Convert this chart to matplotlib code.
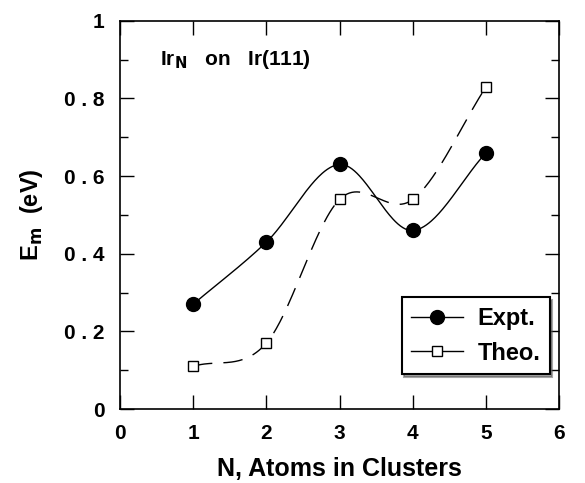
import numpy as np
import matplotlib.pyplot as plt
from matplotlib.lines import Line2D
from matplotlib.ticker import MultipleLocator

# data
n_atoms = [1, 2, 3, 4, 5]
expt = [0.27, 0.43, 0.63, 0.46, 0.66]
theo = [0.11, 0.17, 0.54, 0.54, 0.83]


def smooth(x, y, num=60):
    """Catmull-Rom style cubic Hermite curve through the points."""
    x = np.asarray(x, float)
    y = np.asarray(y, float)
    m = np.gradient(y, x)
    xs_all, ys_all = [], []
    for i in range(len(x) - 1):
        h = x[i + 1] - x[i]
        t = np.linspace(0, 1, num)
        h00 = 2 * t**3 - 3 * t**2 + 1
        h10 = t**3 - 2 * t**2 + t
        h01 = -2 * t**3 + 3 * t**2
        h11 = t**3 - t**2
        xs_all.append(x[i] + t * h)
        ys_all.append(h00 * y[i] + h10 * h * m[i] + h01 * y[i + 1] + h11 * h * m[i + 1])
    return np.concatenate(xs_all), np.concatenate(ys_all)


plt.rcParams["font.family"] = ["Liberation Sans", "DejaVu Sans"]
plt.rcParams["font.weight"] = "bold"

fig = plt.figure(figsize=(5.85, 4.83), dpi=100)
ax = fig.add_axes([0.205, 0.153, 0.751, 0.804])

xs, ys = smooth(n_atoms, expt)
ax.plot(xs, ys, color="black", lw=1.0)
ax.plot(n_atoms, expt, "o", color="black", ms=10)

xs, ys = smooth(n_atoms, theo)
ax.plot(xs, ys, color="black", lw=1.0, dashes=(14, 8))
ax.plot(n_atoms, theo, "s", mfc="white", mec="black", ms=7, mew=1.0, ls="none")

ax.set_xlim(0, 6)
ax.set_ylim(0, 1)
ax.xaxis.set_major_locator(MultipleLocator(1))
ax.yaxis.set_minor_locator(MultipleLocator(0.1))
ax.tick_params(which="both", direction="in", top=True, right=True, width=1.0)
ax.tick_params(which="major", length=10, labelsize=15, pad=11)
ax.tick_params(which="minor", length=6)
ax.set_yticks([0, 0.2, 0.4, 0.6, 0.8, 1.0])
ax.set_yticklabels(["0", "0 . 2", "0 . 4", "0 . 6", "0 . 8", "1"])
for sp in ax.spines.values():
    sp.set_linewidth(1.2)

ax.set_xlabel("N, Atoms in Clusters", fontsize=18, fontweight="bold", labelpad=10)
ax.set_ylabel("E$_\\mathbf{m}$  (eV)", fontsize=17, fontweight="bold", labelpad=14)
ax.text(0.55, 0.885, "Ir$_\\mathbf{N}$   on   Ir(111)", fontsize=15, fontweight="bold")

handles = [
    Line2D([], [], color="black", lw=1.0, marker="o", ms=10),
    Line2D([], [], color="black", lw=1.0, marker="s", mfc="white", ms=7),
]
leg = ax.legend(handles, ["Expt.", "Theo."], loc="lower right",
                bbox_to_anchor=(0.978, 0.09), borderaxespad=0,
                fancybox=False, shadow=True,
                framealpha=1, edgecolor="black", fontsize=17,
                handlelength=2.2, handletextpad=0.6, borderpad=0.4,
                labelspacing=0.5)
leg.get_frame().set_linewidth(1.5)

fig.savefig("out.png", dpi=100)
